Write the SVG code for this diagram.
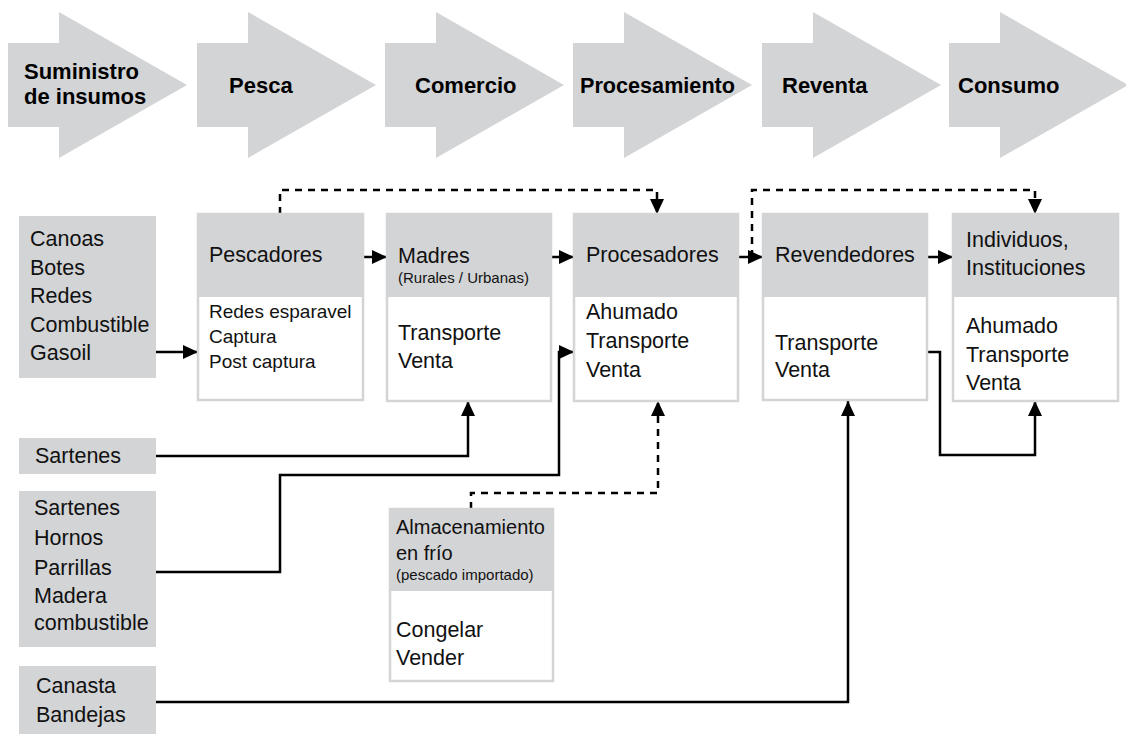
<svg xmlns="http://www.w3.org/2000/svg" width="1126" height="734" viewBox="0 0 1126 734">
<style>
.stage{fill:#d3d4d6}
.in{fill:#d3d4d6}
.box{fill:#fff;stroke:#d3d4d6;stroke-width:2.5}
.hdr{fill:#d3d4d6}
text{font-family:"Liberation Sans",Arial,sans-serif;fill:#111}
.h{font-weight:bold;font-size:22px;fill:#000}
.n{font-size:21.5px}
.s{font-size:19px}
.xs{font-size:15px}
.c{stroke:#000;stroke-width:2.5;fill:none;marker-end:url(#ah)}
.d{stroke-dasharray:7 6}
</style>
<defs>
<marker id="ah" markerUnits="userSpaceOnUse" markerWidth="16" markerHeight="16" viewBox="0 0 16 16" refX="15" refY="8" orient="auto">
<path d="M0,1 L15,8 L0,15 z" fill="#000"/>
</marker>
</defs>

<g id="stages">
<g id="stage-suministro"><polygon class="stage" points="8,43 59,43 59,12 187,85 59,158 59,127 8,127"/><text class="h" x="24" y="79">Suministro</text><text class="h" x="24" y="104">de insumos</text></g>
<g id="stage-pesca"><polygon class="stage" points="197,43 248,43 248,12 376,85 248,158 248,127 197,127"/><text class="h" x="229" y="93">Pesca</text></g>
<g id="stage-comercio"><polygon class="stage" points="385,43 436,43 436,12 564,85 436,158 436,127 385,127"/><text class="h" x="415" y="93">Comercio</text></g>
<g id="stage-procesamiento"><polygon class="stage" points="573,43 624,43 624,12 752,85 624,158 624,127 573,127"/><text class="h" x="580" y="93" textLength="155" lengthAdjust="spacingAndGlyphs">Procesamiento</text></g>
<g id="stage-reventa"><polygon class="stage" points="762,43 813,43 813,12 941,85 813,158 813,127 762,127"/><text class="h" x="782" y="93">Reventa</text></g>
<g id="stage-consumo"><polygon class="stage" points="949,43 1000,43 1000,12 1128,85 1000,158 1000,127 949,127"/><text class="h" x="958" y="93">Consumo</text></g>
</g>

<g id="connectors">
<path class="c" d="M156,352 H198"/>
<path class="c" d="M363,257 H387"/>
<path class="c" d="M551,257 H574"/>
<path class="c" d="M738,257 H763"/>
<path class="c" d="M927,257 H953"/>
<path class="c d" d="M280,214 V190 H657 V214"/>
<path class="c d" d="M752,257 V190 H1035 V214"/>
<path class="c" d="M156,456 H468 V401"/>
<path class="c" d="M156,572 H280 V475 H559 V352 H574"/>
<path class="c" d="M156,702 H848 V401"/>
<path class="c" d="M927,352 H940 V455 H1035 V401"/>
<path class="c d" d="M471,509 V493 H658 V401"/>
</g>

<g id="input-pesca">
<rect class="in" x="19" y="216" width="137" height="162"/>
<text class="n" x="30" y="246">Canoas</text>
<text class="n" x="30" y="275">Botes</text>
<text class="n" x="30" y="303">Redes</text>
<text class="n" x="30" y="332">Combustible</text>
<text class="n" x="30" y="360">Gasoil</text>
</g>

<g id="input-sartenes">
<rect class="in" x="19" y="438" width="137" height="36"/>
<text class="n" x="35" y="463">Sartenes</text>
</g>

<g id="input-procesamiento">
<rect class="in" x="19" y="491" width="137" height="156"/>
<text class="n" x="34" y="515">Sartenes</text>
<text class="n" x="34" y="545">Hornos</text>
<text class="n" x="34" y="575">Parrillas</text>
<text class="n" x="34" y="603">Madera</text>
<text class="n" x="34" y="630">combustible</text>
</g>

<g id="input-reventa">
<rect class="in" x="19" y="666" width="137" height="68"/>
<text class="n" x="36" y="693">Canasta</text>
<text class="n" x="36" y="722">Bandejas</text>
</g>

<g id="pescadores">
<rect class="box" x="198" y="214" width="165" height="186"/>
<rect class="hdr" x="197" y="213" width="167" height="84"/>
<text class="n" x="209" y="262">Pescadores</text>
<text class="s" x="209" y="318">Redes esparavel</text>
<text class="s" x="209" y="343">Captura</text>
<text class="s" x="209" y="368">Post captura</text>
</g>

<g id="madres">
<rect class="box" x="387" y="214" width="164" height="187"/>
<rect class="hdr" x="386" y="213" width="166" height="84"/>
<text class="n" x="398" y="263">Madres</text>
<text class="xs" x="398" y="283">(Rurales / Urbanas)</text>
<text class="n" x="398" y="340">Transporte</text>
<text class="n" x="398" y="368">Venta</text>
</g>

<g id="procesadores">
<rect class="box" x="574" y="214" width="164" height="187"/>
<rect class="hdr" x="573" y="213" width="166" height="84"/>
<text class="n" x="586" y="262">Procesadores</text>
<text class="n" x="586" y="319">Ahumado</text>
<text class="n" x="586" y="348">Transporte</text>
<text class="n" x="586" y="377">Venta</text>
</g>

<g id="revendedores">
<rect class="box" x="763" y="214" width="164" height="186"/>
<rect class="hdr" x="762" y="213" width="166" height="84"/>
<text class="n" x="775" y="262">Revendedores</text>
<text class="n" x="775" y="350">Transporte</text>
<text class="n" x="775" y="377">Venta</text>
</g>

<g id="individuos">
<rect class="box" x="953" y="214" width="165" height="187"/>
<rect class="hdr" x="952" y="213" width="167" height="84"/>
<text class="n" x="966" y="247">Individuos,</text>
<text class="n" x="966" y="275">Instituciones</text>
<text class="n" x="966" y="333">Ahumado</text>
<text class="n" x="966" y="362">Transporte</text>
<text class="n" x="966" y="390">Venta</text>
</g>

<g id="almacenamiento">
<rect class="box" x="390" y="509" width="163" height="172"/>
<rect class="hdr" x="389" y="508" width="165" height="83"/>
<text class="n" x="396" y="534" style="font-size:20px">Almacenamiento</text>
<text class="n" x="396" y="560" style="font-size:20px">en frío</text>
<text class="xs" x="396" y="580">(pescado importado)</text>
<text class="n" x="396" y="637">Congelar</text>
<text class="n" x="396" y="665">Vender</text>
</g>
</svg>
